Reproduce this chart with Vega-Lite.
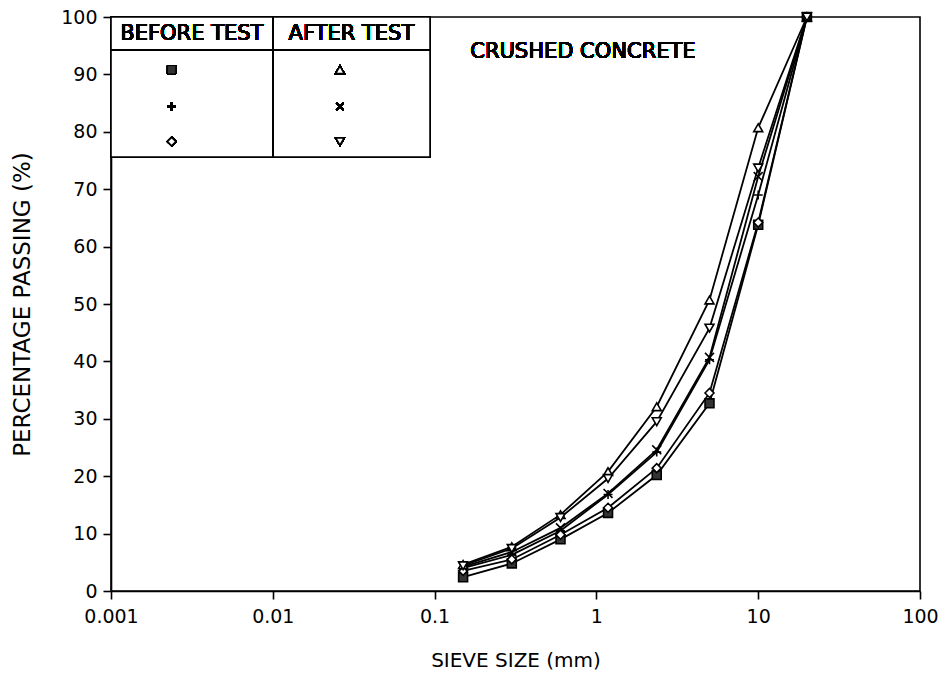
{
  "$schema": "https://vega.github.io/schema/vega-lite/v6.json",
  "width": 809,
  "height": 574,
  "autosize": {"type": "none"},
  "padding": {"left": 111, "top": 17, "right": 30, "bottom": 88},
  "background": "white",
  "config": {
    "view": {"stroke": "black", "strokeWidth": 1.6},
    "font": "DejaVu Sans",
    "axis": {
      "domainColor": "black", "domainWidth": 1.6,
      "tickColor": "black", "tickWidth": 1.6, "tickSize": 8,
      "labelFont": "DejaVu Sans", "labelFontSize": 19, "labelColor": "black",
      "titleFont": "DejaVu Sans", "titleFontSize": 19, "titleFontWeight": "normal", "titleColor": "black",
      "grid": false
    }
  },
  "datasets": {
    "sieve": [
      {"series": "Before 1", "size": 0.15, "passing": 2.4},
      {"series": "Before 1", "size": 0.3, "passing": 4.8},
      {"series": "Before 1", "size": 0.6, "passing": 9.0},
      {"series": "Before 1", "size": 1.18, "passing": 13.6},
      {"series": "Before 1", "size": 2.36, "passing": 20.2},
      {"series": "Before 1", "size": 5, "passing": 32.7},
      {"series": "Before 1", "size": 10, "passing": 63.8},
      {"series": "Before 1", "size": 20, "passing": 100},
      {"series": "Before 2", "size": 0.15, "passing": 4.0},
      {"series": "Before 2", "size": 0.3, "passing": 6.3},
      {"series": "Before 2", "size": 0.6, "passing": 10.5},
      {"series": "Before 2", "size": 1.18, "passing": 16.8},
      {"series": "Before 2", "size": 2.36, "passing": 24.2},
      {"series": "Before 2", "size": 5, "passing": 40.3},
      {"series": "Before 2", "size": 10, "passing": 69.0},
      {"series": "Before 2", "size": 20, "passing": 100},
      {"series": "Before 3", "size": 0.15, "passing": 3.5},
      {"series": "Before 3", "size": 0.3, "passing": 5.5},
      {"series": "Before 3", "size": 0.6, "passing": 9.8},
      {"series": "Before 3", "size": 1.18, "passing": 14.5},
      {"series": "Before 3", "size": 2.36, "passing": 21.4},
      {"series": "Before 3", "size": 5, "passing": 34.5},
      {"series": "Before 3", "size": 10, "passing": 64.2},
      {"series": "Before 3", "size": 20, "passing": 100},
      {"series": "After 1", "size": 0.15, "passing": 4.6},
      {"series": "After 1", "size": 0.3, "passing": 7.7},
      {"series": "After 1", "size": 0.6, "passing": 13.3},
      {"series": "After 1", "size": 1.18, "passing": 20.8},
      {"series": "After 1", "size": 2.36, "passing": 32.1},
      {"series": "After 1", "size": 5, "passing": 50.7},
      {"series": "After 1", "size": 10, "passing": 80.7},
      {"series": "After 1", "size": 20, "passing": 100},
      {"series": "After 2", "size": 0.15, "passing": 4.2},
      {"series": "After 2", "size": 0.3, "passing": 6.8},
      {"series": "After 2", "size": 0.6, "passing": 11.0},
      {"series": "After 2", "size": 1.18, "passing": 17.0},
      {"series": "After 2", "size": 2.36, "passing": 24.6},
      {"series": "After 2", "size": 5, "passing": 40.7},
      {"series": "After 2", "size": 10, "passing": 72.2},
      {"series": "After 2", "size": 20, "passing": 100},
      {"series": "After 3", "size": 0.15, "passing": 4.4},
      {"series": "After 3", "size": 0.3, "passing": 7.4},
      {"series": "After 3", "size": 0.6, "passing": 12.8},
      {"series": "After 3", "size": 1.18, "passing": 19.6},
      {"series": "After 3", "size": 2.36, "passing": 29.5},
      {"series": "After 3", "size": 5, "passing": 45.8},
      {"series": "After 3", "size": 10, "passing": 73.7},
      {"series": "After 3", "size": 20, "passing": 100}
    ]
  },
  "data": {"name": "sieve"},
  "encoding": {
    "x": {
      "field": "size", "type": "quantitative",
      "scale": {"type": "log", "domain": [0.001, 100]},
      "axis": {"values": [0.001, 0.01, 0.1, 1, 10, 100], "format": "~g", "title": "SIEVE SIZE (mm)", "titleFontSize": 20, "labelPadding": 8, "titlePadding": 24, "labelFlush": false}
    },
    "y": {
      "field": "passing", "type": "quantitative",
      "scale": {"domain": [0, 100], "nice": false},
      "axis": {"values": [0, 10, 20, 30, 40, 50, 60, 70, 80, 90, 100], "title": "PERCENTAGE PASSING (%)", "titleFontSize": 23, "labelPadding": 6, "titlePadding": 26}
    }
  },
  "layer": [
    {
      "mark": {"type": "line", "color": "black", "strokeWidth": 1.8},
      "encoding": {"detail": {"field": "series"}}
    },
    {
      "mark": {"type": "point", "opacity": 1, "strokeWidth": 1.6, "size": 80},
      "encoding": {
        "shape": {
          "field": "series",
          "scale": {
            "domain": ["Before 1", "Before 2", "Before 3", "After 1", "After 2", "After 3"],
            "range": ["square", "M-1,0L1,0M0,-1L0,1", "diamond", "triangle-up", "M-1,-1L1,1M-1,1L1,-1", "triangle-down"]
          },
          "legend": null
        },
        "fill": {
          "field": "series",
          "scale": {
            "domain": ["Before 1", "Before 2", "Before 3", "After 1", "After 2", "After 3"],
            "range": ["#333333", "white", "white", "white", "white", "white"]
          },
          "legend": null
        },
        "stroke": {"value": "black"}
      }
    },
    {
      "mark": {"type": "rect", "fill": "white", "stroke": "black", "strokeWidth": 1.6},
      "encoding": {
        "x": {"datum": 0.001}, "x2": {"datum": 0.0937},
        "y": {"datum": 75.6}, "y2": {"datum": 100}
      }
    },
    {
      "mark": {"type": "rule", "color": "black", "strokeWidth": 1.6},
      "encoding": {"x": {"datum": 0.001}, "x2": {"datum": 0.0937}, "y": {"datum": 94.25}}
    },
    {
      "mark": {"type": "rule", "color": "black", "strokeWidth": 1.6},
      "encoding": {"x": {"datum": 0.01}, "y": {"datum": 75.6}, "y2": {"datum": 100}}
    },
    {
      "mark": {"type": "text", "fontSize": 21, "align": "center", "baseline": "middle", "color": "black"},
      "encoding": {"x": {"datum": 0.00316}, "y": {"datum": 97.0}, "text": {"value": "BEFORE TEST"}}
    },
    {
      "mark": {"type": "text", "fontSize": 21, "align": "center", "baseline": "middle", "color": "black"},
      "encoding": {"x": {"datum": 0.0306}, "y": {"datum": 97.0}, "text": {"value": "AFTER TEST"}}
    },
    {
      "mark": {"type": "text", "fontSize": 21, "align": "left", "baseline": "middle", "color": "black"},
      "encoding": {"x": {"datum": 0.166}, "y": {"datum": 93.9}, "text": {"value": "CRUSHED CONCRETE"}}
    },
    {
      "mark": {"type": "point", "shape": "square", "size": 70, "filled": true, "color": "#333333", "stroke": "black", "strokeWidth": 1, "opacity": 1},
      "encoding": {"x": {"datum": 0.00237}, "y": {"datum": 90.8}}
    },
    {
      "mark": {"type": "point", "shape": "M-1,0L1,0M0,-1L0,1", "size": 70, "stroke": "black", "strokeWidth": 1.6, "opacity": 1},
      "encoding": {"x": {"datum": 0.00237}, "y": {"datum": 84.4}}
    },
    {
      "mark": {"type": "point", "shape": "diamond", "size": 70, "stroke": "black", "strokeWidth": 1.6, "fill": "white", "opacity": 1},
      "encoding": {"x": {"datum": 0.00237}, "y": {"datum": 78.3}}
    },
    {
      "mark": {"type": "point", "shape": "triangle-up", "size": 70, "stroke": "black", "strokeWidth": 1.6, "fill": "white", "opacity": 1},
      "encoding": {"x": {"datum": 0.026}, "y": {"datum": 90.8}}
    },
    {
      "mark": {"type": "point", "shape": "M-1,-1L1,1M-1,1L1,-1", "size": 50, "stroke": "black", "strokeWidth": 1.6, "opacity": 1},
      "encoding": {"x": {"datum": 0.026}, "y": {"datum": 84.4}}
    },
    {
      "mark": {"type": "point", "shape": "triangle-down", "size": 70, "stroke": "black", "strokeWidth": 1.6, "fill": "white", "opacity": 1},
      "encoding": {"x": {"datum": 0.026}, "y": {"datum": 78.3}}
    }
  ]
}
